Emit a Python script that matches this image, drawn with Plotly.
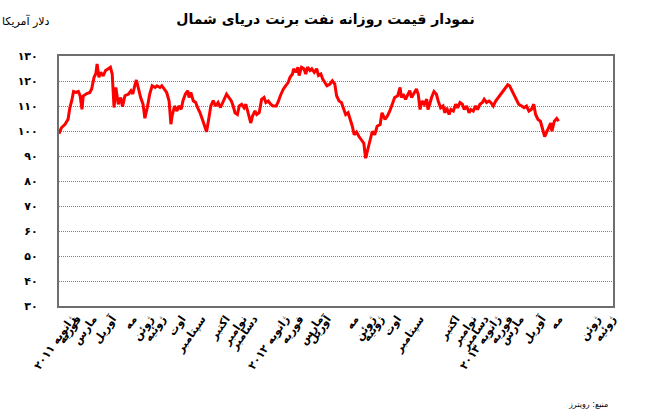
import plotly.graph_objects as go
import pandas as pd

# ---------------- data ----------------
start_date = "2011-02-04"

day_offsets = [
    0, 4, 10, 15, 18, 21, 24, 28, 32, 35, 38, 40, 46, 51, 54, 58, 61, 63, 66, 69,
    73, 77, 81, 85, 88, 91, 94, 98, 102, 105, 109, 115, 119, 122, 126, 128, 131, 135, 139, 142,
    146, 150, 154, 159, 162, 167, 170, 174, 178, 182, 185, 187, 191, 195, 198, 202, 205, 209, 213, 215,
    218, 222, 226, 229, 233, 237, 240, 244, 247, 251, 255, 259, 263, 267,
    277, 281, 285, 288, 291, 295, 298, 302, 306, 309, 313, 317, 320, 324, 327, 331, 335, 339, 342, 346,
    350, 354, 359, 362, 366, 371, 375, 379, 382, 386, 388, 392, 395, 397, 401, 405, 408, 411, 415, 418,
    422, 426, 429, 433, 436, 440, 443, 448, 452, 456, 459, 463, 467, 471, 474, 478, 482, 485, 488, 492,
    496, 500, 504, 507, 510, 514, 518, 522, 526, 531, 534,
    539, 543, 547, 551, 555, 560, 564, 566, 569, 573, 576, 580, 583, 587, 591, 594, 597, 600, 604, 608,
    610, 613, 616, 620, 624, 627, 631, 635, 638, 641, 645, 648, 652, 656, 659, 663, 667, 670, 674, 678,
    681, 685, 689, 692, 696, 700, 703, 707, 711, 714, 718, 722, 726, 731, 734, 738, 742, 745, 749, 753,
    757, 760, 765, 769, 773, 777, 781, 785, 788, 792, 796, 800, 803, 807, 810, 813, 815, 819, 823, 826,
]

brent_price = [
    98.9, 101.3, 102.7, 104.7, 109.4, 112.0, 115.8, 115.4, 115.8, 114.0, 108.7, 114.0, 115.0, 115.4, 116.8, 121.5, 123.0, 126.8, 121.5, 123.5,
    122.0, 124.2, 124.8, 125.5, 122.8, 109.4, 117.4, 110.7, 113.4, 109.7, 114.1, 114.8, 116.1, 114.8, 118.8, 120.4, 117.4, 113.4, 110.7, 105.1,
    109.4, 114.8, 118.1, 117.4, 118.1, 117.4, 118.1, 116.8, 115.4, 112.1, 102.7, 106.0, 110.0, 108.0, 110.0, 108.7, 112.1, 114.8, 116.1, 113.4,
    115.4, 112.1, 111.4, 109.4, 107.4, 104.7, 102.7, 99.7, 104.0, 110.0, 112.1, 110.0, 111.4, 109.4,
    114.7, 113.4, 112.0, 110.0, 107.3, 106.6, 110.0, 110.7, 109.3, 110.7, 107.3, 103.2, 106.0, 108.0, 106.6, 107.3, 112.7, 113.4, 111.4, 112.0,
    110.7, 110.0, 110.0, 111.4, 114.1, 116.8, 118.1, 119.5, 121.5, 122.8, 124.9, 123.5, 125.5, 122.2, 125.5, 124.9, 122.8, 125.5, 124.2, 124.9,
    123.5, 124.9, 122.2, 122.8, 120.8, 119.5, 118.1, 118.8, 120.1, 118.8, 114.1, 112.0, 111.4, 108.6, 106.6, 107.3, 104.6, 101.9, 98.5, 99.6,
    97.8, 96.5, 95.1, 89.1, 92.4, 95.8, 99.9, 98.5, 101.9, 102.6, 107.3,
    104.6, 106.0, 108.0, 110.7, 113.4, 114.1, 117.4, 113.4, 114.7, 112.7, 114.1, 116.1, 113.4, 115.4, 116.8, 114.7, 108.6, 112.0, 110.7, 112.7,
    108.6, 110.7, 113.4, 115.8, 114.7, 112.0, 109.3, 110.0, 107.3, 109.3, 106.6, 108.6, 108.0, 110.7, 109.3, 111.4, 110.7, 108.6, 110.0, 107.3,
    108.6, 108.0, 110.0, 108.6, 110.7, 111.4, 112.7, 111.4, 112.0, 111.4, 110.0, 112.0, 113.4, 114.7, 116.1, 117.4, 118.5, 118.1, 116.1, 114.1,
    112.0, 110.7, 110.0, 109.3, 110.0, 108.0, 108.6, 110.7, 106.6, 104.6, 103.9, 100.5, 97.8, 99.9, 101.9, 103.2, 99.9, 103.9, 105.0, 103.9,
]

x_range_days = [0, 916]

tick_day_offsets = [20, 30, 56, 88, 122, 150, 170, 203, 236, 276, 304, 322,
                    374, 398, 430, 443, 489, 517, 531, 559, 597, 656, 684, 704,
                    724, 744, 762, 798, 826, 889, 914]
tick_labels = ["ژانویه ۲۰۱۱", "فوریه", "مارس", "آوریل", "مه", "ژوئن", "ژوئیه", "اوت",
               "سپتامبر", "اکتبر", "نوامبر", "دسامبر",
               "ژانویه ۲۰۱۲", "فوریه", "مارس", "آوریل", "مه", "ژوئن", "ژوئیه", "اوت",
               "سپتامبر", "اکتبر", "نوامبر", "دسامبر",
               "ژانویه ۲۰۱۳", "فوریه", "مارس", "آوریل", "مه", "ژوئن", "ژوئیه"]

y_ticks = [30, 40, 50, 60, 70, 80, 90, 100, 110, 120, 130]
y_tick_labels = ["۳۰", "۴۰", "۵۰", "۶۰", "۷۰", "۸۰", "۹۰", "۱۰۰", "۱۱۰", "۱۲۰", "۱۳۰"]

title_text = "نمودار قیمت روزانه نفت برنت دریای شمال"
unit_text = "دلار آمریکا"
source_text = "منبع: رویترز"

# ---------------- build ----------------
base = pd.Timestamp(start_date)
to_date = lambda d: base + pd.Timedelta(days=d)
dates = [to_date(d) for d in day_offsets]
tick_dates = [to_date(d) for d in tick_day_offsets]
x_range = [to_date(d) for d in x_range_days]

FONT = "DejaVu Sans"

fig = go.Figure()
fig.add_trace(go.Scatter(
    x=dates, y=brent_price, mode="lines",
    line=dict(color="#ff0000", width=3),
    showlegend=False, hoverinfo="skip",
))

fig.update_layout(
    width=651, height=416,
    margin=dict(l=59, r=38, t=56, b=110),
    paper_bgcolor="white", plot_bgcolor="white",
    font=dict(family=FONT, color="black"),
    title=dict(text="<b>" + title_text + "</b>", xref="container", x=0.5, xanchor="center",
               yref="container", y=1 - 19 / 416, yanchor="middle",
               font=dict(family=FONT, size=14, color="black")),
    showlegend=False,
)

fig.update_xaxes(
    type="date", range=x_range,
    tickmode="array", tickvals=tick_dates, ticktext=tick_labels,
    tickangle=-55, tickfont=dict(family=FONT, size=11, color="black", weight="bold"),
    showgrid=False, zeroline=False, ticks="",
    showline=True, mirror=True, linecolor="#6e6e6e", linewidth=2,
)

fig.update_yaxes(
    range=[30, 130],
    tickmode="array", tickvals=y_ticks, ticktext=y_tick_labels,
    tickfont=dict(family=FONT, size=11, color="black", weight="bold"),
    ticklabelstandoff=17,
    showgrid=True, gridcolor="#808080", griddash="1px,1px", gridwidth=1,
    zeroline=False, ticks="",
    showline=True, mirror=True, linecolor="#6e6e6e", linewidth=2,
)

fig.add_annotation(text=unit_text, xref="paper", yref="paper",
                   x=(52 - 59) / 554, y=1 + (56 - 21) / 250,
                   xanchor="right", yanchor="middle", showarrow=False,
                   font=dict(family=FONT, size=11, color="black"))
fig.add_annotation(text=source_text, xref="paper", yref="paper",
                   x=(610 - 59) / 554, y=(306 - 404) / 250,
                   xanchor="right", yanchor="middle", showarrow=False,
                   font=dict(family=FONT, size=8, color="black"))

fig.write_html("out.html", config={"displayModeBar": False},
               post_script="document.body.style.margin='0';")
